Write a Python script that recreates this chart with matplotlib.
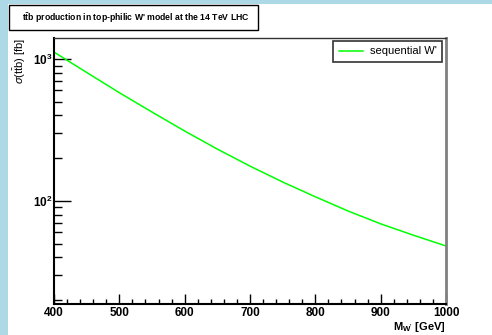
import math
import matplotlib
matplotlib.use("Agg")
import matplotlib.pyplot as plt
from matplotlib.patches import Rectangle
from matplotlib.ticker import FixedLocator, FuncFormatter, LogLocator, NullFormatter

plt.rcParams['font.family'] = ['Liberation Sans', 'DejaVu Sans']
plt.rcParams['mathtext.fontset'] = 'custom'
plt.rcParams['mathtext.rm'] = 'Liberation Sans'
plt.rcParams['mathtext.it'] = 'Liberation Sans:italic'
plt.rcParams['mathtext.bf'] = 'Liberation Sans:bold'

# cross section vs W' mass
mass = [400, 450, 500, 550, 600, 650, 700, 750, 800, 850, 900, 950, 1000]
xsec = [1119, 804, 579, 423, 311, 232, 176, 136, 107, 85, 69, 57.4, 48.2]
series_label = "sequential W'"
x_ticks = [400, 500, 600, 700, 800, 900, 1000]

W, H = 492, 335
fig = plt.figure(figsize=(W / 100, H / 100), dpi=100)
fig.patch.set_facecolor('white')

# light blue strips at the left and top edge
fig.patches.append(Rectangle((0, 0), 8 / W, 1, transform=fig.transFigure,
                             facecolor='#add8e6', edgecolor='none', zorder=0))
fig.patches.append(Rectangle((0, 1 - 4 / H), 1, 4 / H, transform=fig.transFigure,
                             facecolor='#add8e6', edgecolor='none', zorder=0))

ax = fig.add_axes([54 / W, 1 - 304 / H, 392 / W, 266 / H])
ax.plot(mass, xsec, color='#00ff00', lw=1.1, label=series_label)

ax.set_yscale('log')
ax.set_xlim(400, 1000)
ax.set_ylim(18.8, 1406)

ax.xaxis.set_major_locator(FixedLocator(x_ticks))
ax.xaxis.set_minor_locator(FixedLocator(range(400, 1001, 20)))
ax.xaxis.set_major_formatter(FuncFormatter(lambda v, p: f'{int(v)}'))
ax.yaxis.set_major_locator(LogLocator(base=10))
ax.yaxis.set_minor_locator(LogLocator(base=10, subs=range(2, 10)))
ax.yaxis.set_minor_formatter(NullFormatter())
ax.yaxis.set_major_formatter(FuncFormatter(
    lambda v, p: r'$\mathbf{10^{%d}}$' % round(math.log10(v))))

ax.tick_params(axis='x', which='major', direction='in', length=7, width=1,
               labelsize=8.5, pad=2, top=False)
ax.tick_params(axis='x', which='minor', direction='in', length=3.5, width=1, top=False)
ax.tick_params(axis='y', which='major', direction='in', length=12, width=1,
               labelsize=8.5, pad=1, right=False)
ax.tick_params(axis='y', which='minor', direction='in', length=6, width=1, right=False)
for lab in ax.get_xticklabels():
    lab.set_fontweight('bold')

ax.spines['left'].set_linewidth(1.5)
ax.spines['bottom'].set_linewidth(1.5)
ax.spines['top'].set_linewidth(1.0)
ax.spines['top'].set_color('#333333')
ax.spines['right'].set_linewidth(2)
ax.spines['right'].set_color('#808080')

ax.set_xlabel(r"$\mathbf{M_{W'}}$ [GeV]", fontsize=8, fontweight='bold',
              loc='right', labelpad=1)
ax.set_ylabel(r"$\sigma(\mathrm{t\bar{t}b})$ [fb]", fontsize=8,
              loc='top', labelpad=4)

leg = ax.legend(loc='upper right', bbox_to_anchor=(0.990, 0.989), borderaxespad=0,
                fancybox=False, edgecolor='black', fontsize=8, handlelength=2.2,
                borderpad=0.5, handletextpad=0.6)
leg.get_frame().set_linewidth(1.2)

# title box
fig.patches.append(Rectangle((9 / W, 1 - 30 / H), 249 / W, 25 / H,
                             transform=fig.transFigure, facecolor='white',
                             edgecolor='black', lw=1.0, zorder=1))
fig.text(136 / W, 1 - 18 / H,
         r"$\mathbf{t\bar{t}b}$ production in top-philic W' model at the 14 TeV LHC",
         ha='center', va='center', fontsize=6.2, fontweight='bold', zorder=2)

fig.savefig('out.png', dpi=100, facecolor=fig.get_facecolor())
